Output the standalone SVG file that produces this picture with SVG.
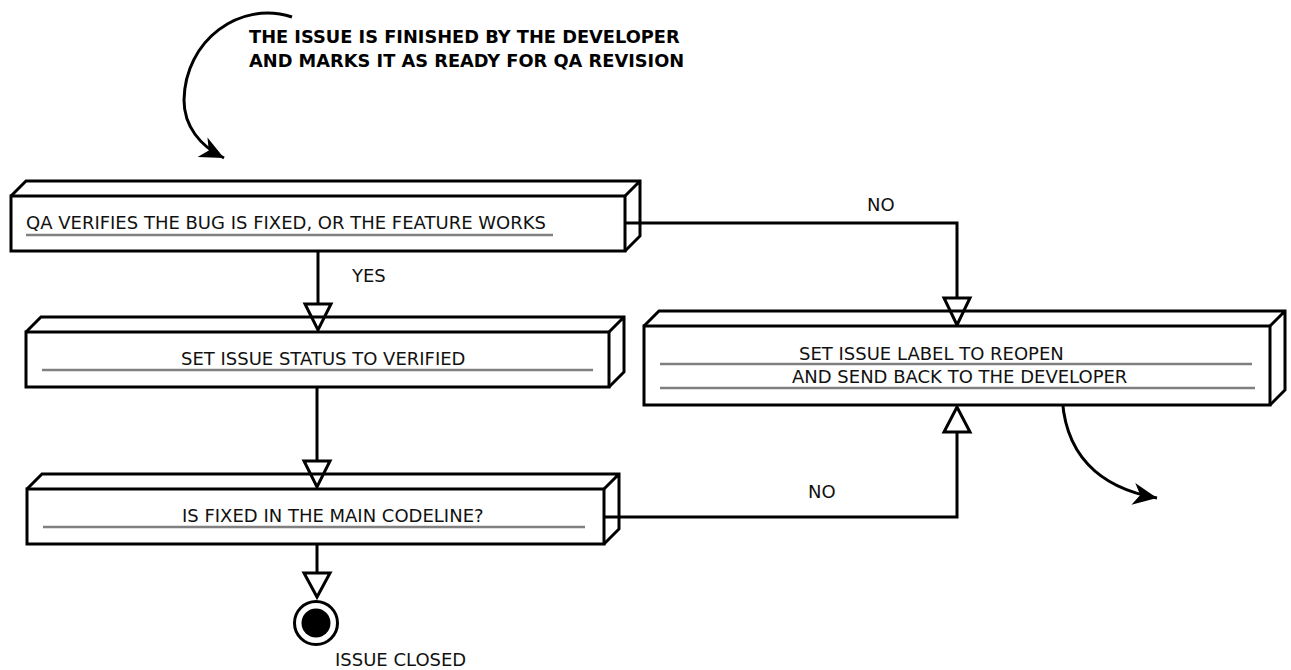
<svg xmlns="http://www.w3.org/2000/svg" width="1291" height="670" viewBox="0 0 1291 670">
  <style>
    .box { fill: #fff; stroke: #000; stroke-width: 3; stroke-linejoin: miter; }
    .face { fill: none; stroke: #000; stroke-width: 3; stroke-linejoin: miter; }
    .rule { stroke: #808080; stroke-width: 2.5; }
    .lbl { font-family: "DejaVu Sans", sans-serif; font-size: 18px; fill: #111; }
    .title { font-family: "DejaVu Sans", sans-serif; font-size: 17.8px; font-weight: bold; fill: #000; }
    .wire { fill: none; stroke: #000; stroke-width: 3; }
    .tri { fill: #fff; stroke: #000; stroke-width: 3; stroke-linejoin: miter; }
    .curve { fill: none; stroke: #000; stroke-width: 3; }
  </style>
  <defs>
    <marker id="barb" markerUnits="userSpaceOnUse" markerWidth="28" markerHeight="26" viewBox="-26 -13 28 26" refX="0" refY="0" orient="auto">
      <path d="M0,0 L-24,-11 L-17,0 L-24,11 Z" fill="#000"/>
    </marker>
  </defs>
  <rect width="1291" height="670" fill="#fff"/>

  <!-- entry note -->
  <g id="note">
    <path class="curve" d="M292,17 C240,0 185,40 184,100 C184,126 200,146 224,158" marker-end="url(#barb)"/>
    <text class="title" x="249" y="43">THE ISSUE IS FINISHED BY THE DEVELOPER</text>
    <text class="title" x="249" y="67">AND MARKS IT AS READY FOR QA REVISION</text>
  </g>

  <!-- connectors -->
  <g id="connectors">
    <path class="wire" d="M625,223 H957 V298"/>
    <polygon class="tri" points="944,298 970,298 957,325"/>
    <text class="lbl" x="867" y="211">NO</text>

    <path class="wire" d="M318,251 V304"/>
    <polygon class="tri" points="305,304 331,304 318,330"/>
    <text class="lbl" x="352" y="282">YES</text>

    <path class="wire" d="M317,387 V461"/>
    <polygon class="tri" points="304,461 330,461 317,487"/>

    <path class="wire" d="M604,517 H957 V432"/>
    <polygon class="tri" points="944,432 970,432 957,407"/>
    <text class="lbl" x="808" y="498">NO</text>

    <path class="wire" d="M317,544 V573"/>
    <polygon class="tri" points="304,573 330,573 317,597"/>

    <path class="curve" d="M1062,389 C1062,455 1100,488 1157,498" marker-end="url(#barb)"/>
  </g>

  <!-- QA verification -->
  <g id="verify">
    <path class="face" d="M11,196 L26,181 H640 V236 L625,251 M625,196 L640,181"/>
    <rect class="box" x="11" y="196" width="614" height="55"/>
    <line class="rule" x1="26" y1="235" x2="553" y2="235"/>
    <text class="lbl" x="26" y="229">QA VERIFIES THE BUG IS FIXED, OR THE FEATURE WORKS</text>
  </g>

  <!-- status verified -->
  <g id="verified">
    <path class="face" d="M26,332 L41,317 H624 V372 L609,387 M609,332 L624,317"/>
    <rect class="box" x="26" y="332" width="583" height="55"/>
    <line class="rule" x1="42" y1="370" x2="593" y2="370"/>
    <text class="lbl" x="181" y="365">SET ISSUE STATUS TO VERIFIED</text>
  </g>

  <!-- main codeline check -->
  <g id="codeline">
    <path class="face" d="M27,489 L42,474 H619 V529 L604,544 M604,489 L619,474"/>
    <rect class="box" x="27" y="489" width="577" height="55"/>
    <line class="rule" x1="43" y1="527" x2="585" y2="527"/>
    <text class="lbl" x="182" y="522">IS FIXED IN THE MAIN CODELINE?</text>
  </g>

  <!-- reopen -->
  <g id="reopen">
    <path class="face" d="M644,326 L659,311 H1285 V390 L1270,405 M1270,326 L1285,311"/>
    <rect class="box" x="644" y="326" width="626" height="79"/>
    <line class="rule" x1="660" y1="364" x2="1252" y2="364"/>
    <line class="rule" x1="660" y1="388" x2="1255" y2="388"/>
    <text class="lbl" x="799" y="360">SET ISSUE LABEL TO REOPEN</text>
    <text class="lbl" x="792" y="383">AND SEND BACK TO THE DEVELOPER</text>
  </g>

  <!-- final state -->
  <g id="closed">
    <circle cx="316" cy="623" r="21.5" fill="#fff" stroke="#000" stroke-width="3"/>
    <circle cx="316" cy="623" r="14.5" fill="#000"/>
    <text class="lbl" x="335" y="666">ISSUE CLOSED</text>
  </g>
</svg>
